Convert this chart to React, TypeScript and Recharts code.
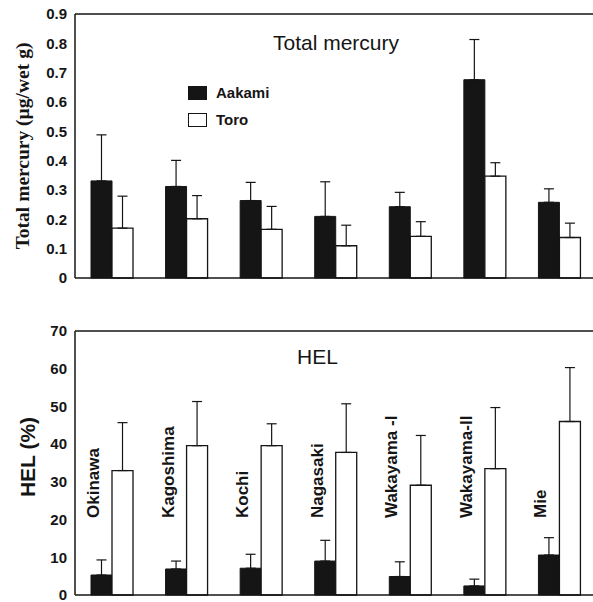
import React from "react";
import {
  Bar,
  BarChart,
  ErrorBar,
  LabelList,
  Legend,
  ReferenceLine,
  XAxis,
  YAxis,
} from "recharts";

const locations = [
  "Okinawa",
  "Kagoshima",
  "Kochi",
  "Nagasaki",
  "Wakayama -I",
  "Wakayama-II",
  "Mie",
];

// total mercury (µg/wet g), mean and upper SD
const hgAakami = [0.331, 0.312, 0.264, 0.21, 0.243, 0.676, 0.258];
const hgAakamiSd = [0.157, 0.089, 0.062, 0.118, 0.049, 0.137, 0.046];
const hgToro = [0.17, 0.202, 0.166, 0.11, 0.142, 0.347, 0.138];
const hgToroSd = [0.109, 0.079, 0.078, 0.07, 0.05, 0.046, 0.049];

// HEL (%)
const helAakami = [5.3, 6.9, 7.1, 9.0, 4.9, 2.4, 10.6];
const helAakamiSd = [4.0, 2.1, 3.7, 5.5, 3.9, 1.8, 4.6];
const helToro = [33.0, 39.6, 39.6, 37.8, 29.1, 33.5, 46.0];
const helToroSd = [12.7, 11.7, 5.8, 12.9, 13.2, 16.2, 14.3];

const hgTicks = [0, 0.1, 0.2, 0.3, 0.4, 0.5, 0.6, 0.7, 0.8, 0.9];
const helTicks = [0, 10, 20, 30, 40, 50, 60, 70];

const hgData = locations.map((loc, i) => ({
  loc,
  aakami: hgAakami[i],
  toro: hgToro[i],
  aakamiErr: [0, hgAakamiSd[i]],
  toroErr: [0, hgToroSd[i]],
}));

const helData = locations.map((loc, i) => ({
  loc,
  aakami: helAakami[i],
  toro: helToro[i],
  aakamiErr: [0, helAakamiSd[i]],
  toroErr: [0, helToroSd[i]],
}));

const INK = "#151515";
const SANS = "'Liberation Sans', Arial, sans-serif";
const SERIF = "'Liberation Serif', 'Times New Roman', serif";

const tickStyle = { fill: INK, fontSize: 15, fontWeight: 700, fontFamily: SANS };

const axisTitle =
  (text: string, cx: number, font: string, size: number, shift = 0) =>
  (props: any) => {
    const vb = props.viewBox;
    const cy = vb.y + vb.height / 2 + shift;
    return (
      <text
        x={cx}
        y={cy}
        transform={`rotate(-90 ${cx} ${cy})`}
        textAnchor="middle"
        dominantBaseline="central"
        fontFamily={font}
        fontSize={size}
        fontWeight={700}
        fill={INK}
      >
        {text}
      </text>
    );
  };

const siteLabel = (props: any) => {
  const vb = props.viewBox || props;
  const x = Number(vb.x) + 8;
  const y = Number(vb.y) + Number(vb.height) - 77;
  return (
    <text
      x={x}
      y={y}
      transform={`rotate(-90 ${x} ${y})`}
      fontFamily={SANS}
      fontSize={17}
      fontWeight={700}
      fill={INK}
    >
      {props.value}
    </text>
  );
};

const legendBox = () => (
  <div style={{ fontFamily: SANS, fontSize: 15, fontWeight: 700, color: INK }}>
    {[
      { name: "Aakami", fill: INK },
      { name: "Toro", fill: "#fff" },
    ].map((d) => (
      <div
        key={d.name}
        style={{ display: "flex", alignItems: "center", height: 27 }}
      >
        <span
          style={{
            width: 17,
            height: 12,
            background: d.fill,
            border: `1.3px solid ${INK}`,
            marginRight: 9,
          }}
        />
        {d.name}
      </div>
    ))}
  </div>
);

function Panel({
  data,
  ticks,
  height,
  margin,
  fmt,
  yTitle,
  withSites,
  withLegend,
}: any) {
  return (
    <BarChart
      width={600}
      height={height}
      data={data}
      margin={margin}
      barSize={21}
      barGap={0}
    >
      <XAxis
        dataKey="loc"
        tick={false}
        tickLine={false}
        height={2}
        axisLine={{ stroke: INK, strokeWidth: 1.5 }}
      />
      <YAxis
        width={75}
        domain={[ticks[0], ticks[ticks.length - 1]]}
        ticks={ticks}
        interval={0}
        tickFormatter={fmt}
        tick={tickStyle}
        tickLine={false}
        axisLine={{ stroke: INK, strokeWidth: 1.5 }}
        label={{ content: yTitle }}
      />
      <ReferenceLine
        y={ticks[ticks.length - 1]}
        stroke={INK}
        strokeWidth={1.5}
      />
      {withLegend && (
        <Legend
          layout="vertical"
          align="center"
          verticalAlign="middle"
          content={legendBox}
          wrapperStyle={{ left: 188, top: 79, width: 120 }}
        />
      )}
      <Bar
        dataKey="aakami"
        name="Aakami"
        fill={INK}
        stroke={INK}
        strokeWidth={1}
        isAnimationActive={false}
      >
        <ErrorBar
          dataKey="aakamiErr"
          direction="y"
          width={5}
          stroke={INK}
          strokeWidth={1.2}
          isAnimationActive={false}
        />
        {withSites && <LabelList dataKey="loc" content={siteLabel} />}
      </Bar>
      <Bar
        dataKey="toro"
        name="Toro"
        fill="#fff"
        stroke={INK}
        strokeWidth={1.3}
        isAnimationActive={false}
      >
        <ErrorBar
          dataKey="toroErr"
          direction="y"
          width={5}
          stroke={INK}
          strokeWidth={1.2}
          isAnimationActive={false}
        />
      </Bar>
    </BarChart>
  );
}

export default function App() {
  return (
    <div
      style={{
        position: "absolute",
        left: 0,
        top: 0,
        width: 593,
        height: 602,
        overflow: "hidden",
        background: "#fff",
      }}
    >
      <Panel
        data={hgData}
        ticks={hgTicks}
        height={290}
        margin={{ top: 14, right: 3, bottom: 10, left: 0 }}
        fmt={(v: number) => (v === 0 ? "0" : v.toFixed(1))}
        yTitle={axisTitle("Total mercury (µg/wet g)", 22, SERIF, 19.5)}
        withLegend
      />
      <div
        style={{
          position: "absolute",
          left: 273,
          top: 31,
          fontFamily: SANS,
          fontSize: 21,
          color: INK,
          lineHeight: "24px",
        }}
      >
        Total mercury
      </div>
      <div style={{ position: "absolute", left: 0, top: 300 }}>
        <Panel
          data={helData}
          ticks={helTicks}
          height={302}
          margin={{ top: 31, right: 3, bottom: 5, left: 0 }}
          fmt={(v: number) => String(v)}
          yTitle={axisTitle("HEL (%)", 27, SANS, 21, -6)}
          withSites
        />
      </div>
      <div
        style={{
          position: "absolute",
          left: 297,
          top: 345,
          fontFamily: SANS,
          fontSize: 21,
          color: INK,
          lineHeight: "24px",
        }}
      >
        HEL
      </div>
    </div>
  );
}
